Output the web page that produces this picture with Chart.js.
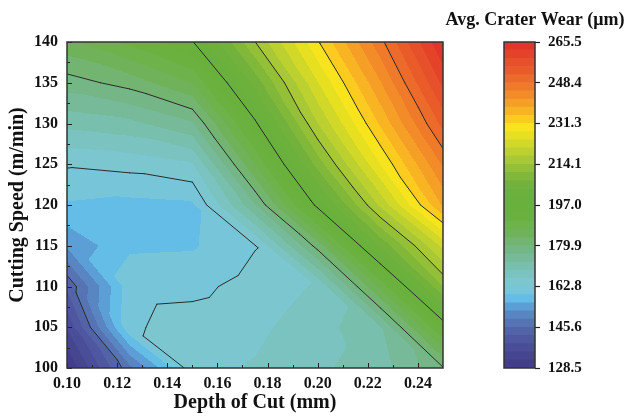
<!DOCTYPE html>
<html>
<head>
<meta charset="utf-8">
<title>Avg. Crater Wear</title>
<script src="https://cdn.jsdelivr.net/npm/chart.js@4.4.1/dist/chart.umd.min.js"></script>
<style>
  html, body { margin: 0; padding: 0; background: #fff; }
  #wrap { position: relative; width: 629px; height: 416px; }
  #wrap canvas { position: absolute; left: 0; top: 0; }
</style>
</head>
<body>
<div id="wrap">
  <canvas id="contourChart" width="629" height="416"></canvas>
  <canvas id="colorbarChart" width="629" height="416"></canvas>
</div>
<script>
// Crater wear grid: one row per cutting speed, one column per depth of cut
const depthOfCut = [0.10, 0.125, 0.15, 0.175, 0.20, 0.225, 0.25];
const cuttingSpeed = [100, 105, 110, 115, 120, 125, 130, 135, 140];

const wearAt100 = [128.5, 148.0, 165.0, 166.5, 169.0, 171.5, 179.6];
const wearAt105 = [135.7, 162.2, 164.5, 165.5, 168.0, 172.8, 194.3];
const wearAt110 = [142.8, 161.5, 161.8, 164.2, 166.6, 187.7, 210.8];
const wearAt115 = [153.0, 158.8, 159.0, 162.6, 181.4, 204.4, 222.0];
const wearAt120 = [159.0, 158.3, 158.8, 176.3, 198.2, 218.3, 238.6];
const wearAt125 = [163.2, 164.0, 165.9, 186.9, 208.7, 227.9, 245.5];
const wearAt130 = [170.7, 172.1, 176.1, 196.2, 217.5, 235.3, 253.0];
const wearAt135 = [178.3, 181.3, 186.9, 205.1, 224.2, 241.3, 259.5];
const wearAt140 = [185.7, 191.0, 196.7, 214.0, 230.9, 247.3, 265.5];
const wearRows = [wearAt100, wearAt105, wearAt110, wearAt115, wearAt120,
                  wearAt125, wearAt130, wearAt135, wearAt140];

// Axis ticks
const depthTicks = [0.10, 0.12, 0.14, 0.16, 0.18, 0.20, 0.22, 0.24];
const depthMinorTicks = [0.11, 0.13, 0.15, 0.17, 0.19, 0.21, 0.23];
const speedTicks = [100, 105, 110, 115, 120, 125, 130, 135, 140];
const speedMinorTicks = [102.5, 107.5, 112.5, 117.5, 122.5, 127.5, 132.5, 137.5];
const wearTicks = [128.5, 145.6, 162.8, 179.9, 197.0, 214.1, 231.3, 248.4, 265.5];
const BANDS_PER_STEP = 5;

const SERIF = "'Liberation Serif', 'Times New Roman', Times, serif";
const INK = '#111';

// one colour per band, low to high
const bandPalette = [
  '#433e8c', '#46458f', '#4a4d97', '#4e57a0', '#5263a8',
  '#5673b4', '#5985c2', '#5c9fd6', '#63bde6', '#77c5d9',
  '#7cc6d0', '#7bc3c0', '#79bfae', '#77ba9a', '#75b686',
  '#73b470', '#70b25a', '#6db24a', '#6bb140', '#6ab03c',
  '#6ab03c', '#6cb13c', '#72b23c', '#82b83a', '#94c038',
  '#a8c835', '#bcd030', '#d2d828', '#e6e020', '#f7e41c',
  '#fbcb20', '#f9b424', '#f69f26', '#f38b29', '#ef7a2a',
  '#ec6a2a', '#e95c2a', '#e6502a', '#e4432a', '#e2362a'
];

function hexToRgb(h) {
  return [parseInt(h.slice(1, 3), 16), parseInt(h.slice(3, 5), 16), parseInt(h.slice(5, 7), 16)];
}

// split every tick interval into equal colour bands
const bandEdges = [];
for (let k = 0; k < wearTicks.length - 1; k++) {
  for (let b = 0; b < BANDS_PER_STEP; b++) {
    bandEdges.push(wearTicks[k] + (wearTicks[k + 1] - wearTicks[k]) * b / BANDS_PER_STEP);
  }
}
bandEdges.push(wearTicks[wearTicks.length - 1]);
const bandCount = bandEdges.length - 1;
const bandRgb = bandPalette.map(hexToRgb);

function bandIndex(v) {
  let b = 0;
  while (b < bandCount - 1 && v >= bandEdges[b + 1]) b++;
  return b;
}

function cellIndex(arr, v) {
  let i = 0;
  while (i < arr.length - 2 && v > arr[i + 1]) i++;
  return i;
}

// linear interpolation on triangles (each cell split along its TL-BR diagonal)
function wearAt(d, s) {
  const i = cellIndex(depthOfCut, d), j = cellIndex(cuttingSpeed, s);
  const u = (d - depthOfCut[i]) / (depthOfCut[i + 1] - depthOfCut[i]);
  const t = (s - cuttingSpeed[j]) / (cuttingSpeed[j + 1] - cuttingSpeed[j]);
  const bl = wearRows[j][i], br = wearRows[j][i + 1];
  const tl = wearRows[j + 1][i], tr = wearRows[j + 1][i + 1];
  if (u + t <= 1) return bl + u * (br - bl) + t * (tl - bl);
  return tr + (1 - u) * (tl - tr) + (1 - t) * (br - tr);
}

function drawFill(chart) {
  const { ctx, chartArea: a, scales: { x, y } } = chart;
  const w = Math.round(a.right - a.left), h = Math.round(a.bottom - a.top);
  const off = document.createElement('canvas');
  off.width = w; off.height = h;
  const octx = off.getContext('2d');
  const img = octx.createImageData(w, h);
  for (let j = 0; j < h; j++) {
    const s = y.getValueForPixel(a.top + j + 0.5);
    for (let i = 0; i < w; i++) {
      const d = x.getValueForPixel(a.left + i + 0.5);
      const c = bandRgb[bandIndex(wearAt(d, s))];
      const p = (j * w + i) * 4;
      img.data[p] = c[0]; img.data[p + 1] = c[1]; img.data[p + 2] = c[2]; img.data[p + 3] = 255;
    }
  }
  octx.putImageData(img, 0, 0);
  ctx.drawImage(off, a.left, a.top);
}

function drawContours(chart) {
  const { ctx, chartArea: a, scales: { x, y } } = chart;
  const levels = wearTicks.slice(1, -1);
  ctx.save();
  ctx.beginPath();
  ctx.rect(a.left, a.top, a.right - a.left, a.bottom - a.top);
  ctx.clip();
  ctx.strokeStyle = '#2b2b2b';
  ctx.lineWidth = 1;
  ctx.lineCap = 'round';
  ctx.beginPath();
  const node = (ii, jj) => ({ d: depthOfCut[ii], s: cuttingSpeed[jj], v: wearRows[jj][ii] });
  for (let j = 0; j < cuttingSpeed.length - 1; j++) {
    for (let i = 0; i < depthOfCut.length - 1; i++) {
      const bl = node(i, j), br = node(i + 1, j), tl = node(i, j + 1), tr = node(i + 1, j + 1);
      for (const tri of [[bl, br, tl], [tr, tl, br]]) {
        for (const L of levels) {
          const pts = [];
          for (const [m, n] of [[0, 1], [1, 2], [2, 0]]) {
            const va = tri[m].v - L, vb = tri[n].v - L;
            if ((va < 0) !== (vb < 0)) {
              const f = va / (va - vb);
              pts.push([tri[m].d + f * (tri[n].d - tri[m].d), tri[m].s + f * (tri[n].s - tri[m].s)]);
            }
          }
          if (pts.length === 2) {
            ctx.moveTo(x.getPixelForValue(pts[0][0]), y.getPixelForValue(pts[0][1]));
            ctx.lineTo(x.getPixelForValue(pts[1][0]), y.getPixelForValue(pts[1][1]));
          }
        }
      }
    }
  }
  ctx.stroke();
  ctx.restore();
}

function drawFrame(chart) {
  const { ctx, chartArea: a, scales: { x, y } } = chart;
  ctx.save();
  ctx.strokeStyle = '#222';
  ctx.lineWidth = 1;
  ctx.beginPath();
  const xTick = (v, len) => {
    const px = Math.round(x.getPixelForValue(v)) + 0.5;
    ctx.moveTo(px, a.bottom); ctx.lineTo(px, a.bottom - len);
  };
  const yTick = (v, len) => {
    const py = Math.round(y.getPixelForValue(v)) + 0.5;
    ctx.moveTo(a.left, py); ctx.lineTo(a.left + len, py);
  };
  depthTicks.forEach(v => xTick(v, 5));
  depthMinorTicks.forEach(v => xTick(v, 3));
  speedTicks.forEach(v => yTick(v, 5));
  speedMinorTicks.forEach(v => yTick(v, 3));
  ctx.stroke();
  ctx.strokeStyle = '#333';
  ctx.lineWidth = 1.5;
  ctx.strokeRect(a.left, a.top, a.right - a.left, a.bottom - a.top);
  ctx.restore();
}

const contourPlugin = {
  id: 'contourLayers',
  beforeDatasetsDraw(chart) { drawFill(chart); },
  afterDatasetsDraw(chart) { drawContours(chart); drawFrame(chart); }
};

const tickFont = { family: SERIF, size: 16, weight: 'bold' };
const titleFont = { family: SERIF, size: 20, weight: 'bold' };

new Chart(document.getElementById('contourChart'), {
  type: 'scatter',
  data: { datasets: [] },
  options: {
    responsive: false,
    animation: false,
    layout: { padding: { left: 0, top: 42, right: 186, bottom: 0 } },
    plugins: { legend: { display: false }, tooltip: { enabled: false } },
    scales: {
      x: {
        type: 'linear', min: 0.10, max: 0.25,
        afterBuildTicks: s => { s.ticks = depthTicks.map(v => ({ value: v })); },
        afterFit: s => { s.height = 48; },
        grid: { display: false, drawTicks: false },
        border: { display: false },
        ticks: { padding: 6, color: INK, font: tickFont, maxRotation: 0, callback: v => v.toFixed(2) },
        title: { display: true, text: 'Depth of Cut (mm)', color: INK, font: titleFont, padding: { top: 0, bottom: 1 } }
      },
      y: {
        type: 'linear', min: 100, max: 140,
        afterBuildTicks: s => { s.ticks = speedTicks.map(v => ({ value: v })); },
        afterFit: s => { s.width = 67; },
        grid: { display: false, drawTicks: false },
        border: { display: false },
        ticks: { padding: 9, color: INK, font: tickFont, callback: v => String(v) },
        title: { display: true, text: 'Cutting Speed (m/min)', color: INK, font: titleFont, padding: { top: 6, bottom: 0 } }
      }
    }
  },
  plugins: [contourPlugin]
});

// colour scale: one floating bar per band, all in the same slot
const colorbarSets = [];
for (let b = 0; b < bandCount; b++) {
  colorbarSets.push({
    data: [[bandEdges[b], bandEdges[b + 1]]],
    backgroundColor: bandPalette[b],
    borderWidth: 0,
    grouped: false,
    barPercentage: 1,
    categoryPercentage: 1
  });
}

const colorbarFrame = {
  id: 'colorbarFrame',
  afterDatasetsDraw(chart) {
    const { ctx, chartArea: a } = chart;
    ctx.save();
    ctx.strokeStyle = '#333';
    ctx.lineWidth = 1.5;
    ctx.strokeRect(a.left, a.top, a.right - a.left, a.bottom - a.top);
    ctx.fillStyle = INK;
    ctx.font = `bold 18px ${SERIF}`;
    ctx.textAlign = 'center';
    ctx.textBaseline = 'alphabetic';
    ctx.fillText('Avg. Crater Wear (μm)', 535, 25);
    ctx.restore();
  }
};

new Chart(document.getElementById('colorbarChart'), {
  type: 'bar',
  data: { labels: ['wear'], datasets: colorbarSets },
  options: {
    responsive: false,
    animation: false,
    layout: { padding: { left: 504, top: 42, right: 34, bottom: 48 } },
    plugins: { legend: { display: false }, tooltip: { enabled: false } },
    scales: {
      x: { display: false },
      y: {
        position: 'right', min: wearTicks[0], max: wearTicks[wearTicks.length - 1],
        afterBuildTicks: s => { s.ticks = wearTicks.map(v => ({ value: v })); },
        afterFit: s => { s.width = 60; },
        grid: { drawOnChartArea: false, drawTicks: true, tickLength: 5, tickColor: '#222', tickWidth: 1.2 },
        border: { display: false },
        ticks: { padding: 8, color: INK, font: { family: SERIF, size: 15, weight: 'bold' }, callback: v => v.toFixed(1) }
      }
    }
  },
  plugins: [colorbarFrame]
});
</script>
</body>
</html>
